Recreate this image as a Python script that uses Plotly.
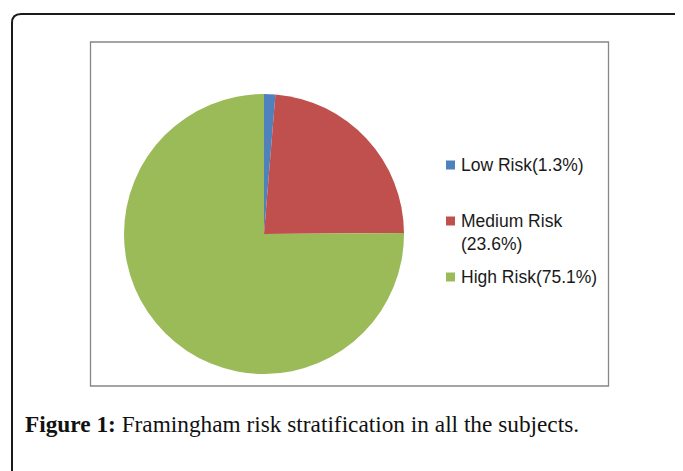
import plotly.graph_objects as go

# ---- data ----
labels = ["Low Risk", "Medium Risk", "High Risk"]
values = [1.3, 23.6, 75.1]
legend_text = ["Low Risk(1.3%)", "Medium Risk<br>(23.6%)", "High Risk(75.1%)"]
colors = ["#4F81BD", "#C0504D", "#9BBB59"]
caption_bold = "Figure 1:"
caption_rest = " Framingham risk stratification in all the subjects."

OFF = 8  # page body margin
W, H = 683 - OFF, 471 - OFF

def px(x):
    return (x - OFF) / W

def py(y):
    return 1 - (y - OFF) / H

fig = go.Figure()
fig.add_trace(go.Pie(
    labels=labels, values=values, sort=False, direction="clockwise", rotation=0,
    marker=dict(colors=colors, line=dict(width=0)),
    textinfo="none", hoverinfo="label+percent", showlegend=False,
    domain=dict(x=[px(124), px(404)], y=[py(374), py(94)]),
))

shapes = []
# outer rounded frame
r = 9
shapes.append(dict(type="path", xref="paper", yref="paper",
                   path=f"M {px(12)} {py(490)} L {px(12)} {py(14 + r)} Q {px(12)} {py(14)} {px(12 + r)} {py(14)} L {px(700)} {py(14)}",
                   line=dict(color="#1a1a1a", width=2)))
# inner chart box
shapes.append(dict(type="rect", xref="paper", yref="paper",
                   x0=px(90.5), x1=px(608.5), y0=py(386), y1=py(42),
                   line=dict(color="#868686", width=1.3)))

annotations = []
ys = [165, 221, 277]
for lab, col, yc in zip(legend_text, colors, ys):
    shapes.append(dict(type="rect", xref="paper", yref="paper",
                       x0=px(446), x1=px(455), y0=py(yc + 4.5), y1=py(yc - 4.5),
                       fillcolor=col, line=dict(width=0)))
    annotations.append(dict(text=lab, xref="paper", yref="paper", x=px(459), y=py(yc - 12),
                            xanchor="left", yanchor="top", showarrow=False, align="left",
                            font=dict(family="Liberation Sans, Arial", size=17.5, color="#1a1a1a")))

annotations.append(dict(
    text=f"<b>{caption_bold}</b>{caption_rest}", xref="paper", yref="paper",
    x=px(23), y=py(424), xanchor="left", yanchor="middle", showarrow=False,
    font=dict(family="Liberation Serif, Times New Roman, serif", size=23.3, color="#111111")))

fig.update_layout(
    width=W, height=H, margin=dict(l=0, r=0, t=0, b=0),
    paper_bgcolor="white", plot_bgcolor="white",
    shapes=shapes, annotations=annotations,
)
fig.write_html("out.html")
